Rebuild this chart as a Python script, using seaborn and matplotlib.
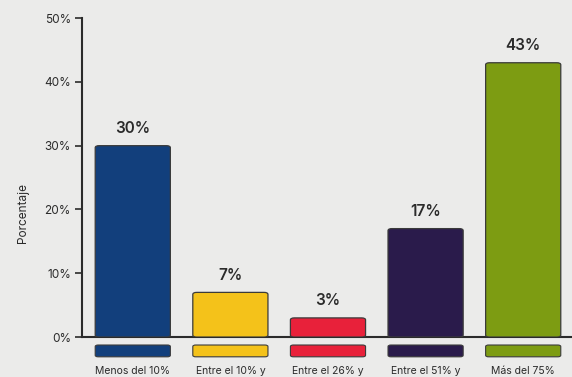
import matplotlib
matplotlib.use("Agg")
import matplotlib.pyplot as plt
from matplotlib.patches import FancyBboxPatch
import seaborn as sns
import pandas as pd

categories = ["Menos del 10%", "Entre el 10% y", "Entre el 26% y", "Entre el 51% y", "Más del 75%"]
values = [30, 7, 3, 17, 43]
colors = ["#123f7c", "#f4c21a", "#e8213a", "#2a1b4b", "#7d9c12"]
y_ticks = [0, 10, 20, 30, 40, 50]
y_tick_labels = ["0%", "10%", "20%", "30%", "40%", "50%"]

BG = "#ebebea"
INK = "#2b2b2b"

sns.set_theme(style="white")
plt.rcParams["font.family"] = ["Inter", "DejaVu Sans"]

df = pd.DataFrame({"categoria": categories, "valor": values})

fig = plt.figure(figsize=(5.72, 3.77), dpi=100, facecolor=BG)
ax = fig.add_axes([0.1434, 0.106, 0.8566, 0.846])
ax.set_facecolor(BG)

sns.barplot(data=df, x="categoria", y="valor", hue="categoria", palette=colors,
            width=0.77, legend=False, ax=ax, saturation=1)

# swap the square bars for rounded ones
for patch in list(ax.patches):
    x0, y0 = patch.get_x(), patch.get_y()
    w, h = patch.get_width(), patch.get_height()
    fc = patch.get_facecolor()
    patch.remove()
    ax.add_patch(FancyBboxPatch((x0, y0), w, h,
                                boxstyle="round,pad=0,rounding_size=0.04",
                                mutation_aspect=8,
                                facecolor=fc, edgecolor="#3a3a3a", linewidth=0.9,
                                zorder=3))

# coloured strips under the axis, one per category
for i, c in enumerate(colors):
    ax.add_patch(FancyBboxPatch((i - 0.385, -3.1), 0.77, 1.85,
                                boxstyle="round,pad=0,rounding_size=0.03",
                                mutation_aspect=8,
                                facecolor=c, edgecolor="#3a3a3a", linewidth=0.8,
                                clip_on=False, zorder=3))

# value labels above bars
for i, v in enumerate(values):
    ax.annotate(f"{v}%", (i, v), xytext=(0, 7), textcoords="offset points",
                ha="center", va="bottom", fontsize=11, fontweight="semibold",
                color=INK)

ax.set_xlim(-0.52, 4.5)
ax.set_ylim(0, 50)
ax.set_yticks(y_ticks)
ax.set_yticklabels(y_tick_labels, fontsize=8.5, color=INK)
ax.set_xticks(range(len(categories)))
ax.set_xticklabels(categories, fontsize=7.5, color=INK)
ax.set_xticks([0.5, 1.5, 2.5, 3.5], minor=True)
ax.tick_params(axis="x", which="major", length=0, pad=21)
ax.tick_params(axis="x", which="minor", length=5, width=1.2, color=INK, direction="out")
ax.tick_params(axis="y", length=5, width=1.2, color=INK, direction="out", pad=3, left=True)

ax.set_xlabel("")
ax.set_ylabel("Porcentaje", fontsize=8.5, color=INK)
ax.yaxis.set_label_coords(-0.108, 0.39)

for side in ["top", "right"]:
    ax.spines[side].set_visible(False)
for side in ["left", "bottom"]:
    ax.spines[side].set_color(INK)
    ax.spines[side].set_linewidth(1.5)

fig.savefig("out.png", dpi=100, facecolor=BG)
